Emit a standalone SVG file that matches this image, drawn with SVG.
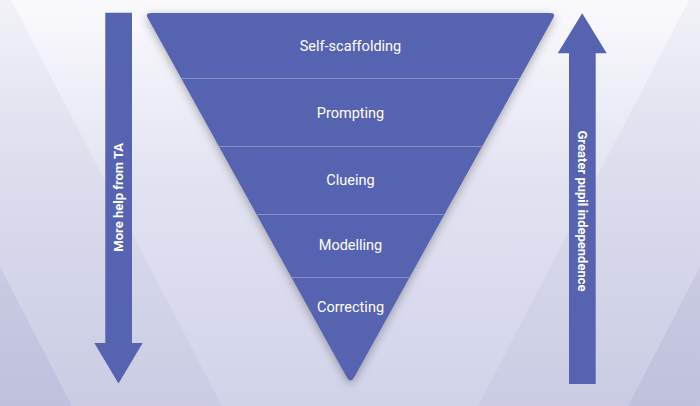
<svg xmlns="http://www.w3.org/2000/svg" width="700" height="406" viewBox="0 0 700 406">
  <defs>
    <linearGradient id="bg" x1="0" y1="0" x2="0" y2="1">
      <stop offset="0" stop-color="#fafafd"/>
      <stop offset="0.45" stop-color="#e2e3f1"/>
      <stop offset="1" stop-color="#d1d3e9"/>
    </linearGradient>
    <filter id="shadow" x="-10%" y="-10%" width="120%" height="125%">
      <feDropShadow dx="0" dy="3" stdDeviation="5" flood-color="#000000" flood-opacity="0.3"/>
    </filter>
    <style>
      .band { fill: #3c3f8c; fill-opacity: 0.045; }
      .corner { fill: #3c3f8c; fill-opacity: 0.07; }
      .shape { fill: #5663b0; }
      .divider { stroke: #8890ca; stroke-width: 1; fill: none; }
      .label { font-family: Roboto, "Liberation Sans", sans-serif; font-size: 14.5px; fill: #ffffff; text-anchor: middle; }
      .side { font-family: Roboto, "Liberation Sans", sans-serif; font-size: 13px; font-weight: bold; fill: #ffffff; text-anchor: middle; }
    </style>
  </defs>

  <g id="background">
    <rect x="0" y="0" width="700" height="406" fill="url(#bg)"/>
    <polygon class="band" points="0,0 11,0 222,406 0,406"/>
    <polygon class="corner" points="0,267 72,406 0,406"/>
    <polygon class="band" points="700,0 689,0 478,406 700,406"/>
    <polygon class="corner" points="700,267 628,406 700,406"/>
  </g>

  <g id="pyramid">
    <path class="shape" filter="url(#shadow)" d="M151,13 L550,13 Q556,13 553.1,18.3 L354.4,377 Q350.5,384 346.6,377 L147.9,18.3 Q145,13 151,13 Z"/>
  </g>

  <g id="connectors">
    <line class="divider" x1="181" y1="78.5" x2="520" y2="78.5"/>
    <line class="divider" x1="218.7" y1="146.5" x2="482.3" y2="146.5"/>
    <line class="divider" x1="256.4" y1="214.5" x2="444.6" y2="214.5"/>
    <line class="divider" x1="291.3" y1="277.5" x2="409.7" y2="277.5"/>
  </g>

  <g id="level-self-scaffolding">
    <text class="label" x="350.5" y="51">Self-scaffolding</text>
  </g>
  <g id="level-prompting">
    <text class="label" x="350.5" y="118">Prompting</text>
  </g>
  <g id="level-clueing">
    <text class="label" x="350.5" y="185">Clueing</text>
  </g>
  <g id="level-modelling">
    <text class="label" x="350.5" y="249.5">Modelling</text>
  </g>
  <g id="level-correcting">
    <text class="label" x="350.5" y="312">Correcting</text>
  </g>

  <g id="arrow-more-help">
    <polygon class="shape" points="105.3,12.7 132,12.7 132,343 142.7,343 118.5,383.5 94.3,343 105.3,343"/>
    <text class="side" transform="translate(123.3,197.3) rotate(-90)">More help from TA</text>
  </g>

  <g id="arrow-independence">
    <polygon class="shape" points="582.2,13.3 606.7,53.3 595.7,53.3 595.7,384 569,384 569,53.3 557.7,53.3"/>
    <text class="side" transform="translate(577.6,211) rotate(90)">Greater pupil independence</text>
  </g>
</svg>
